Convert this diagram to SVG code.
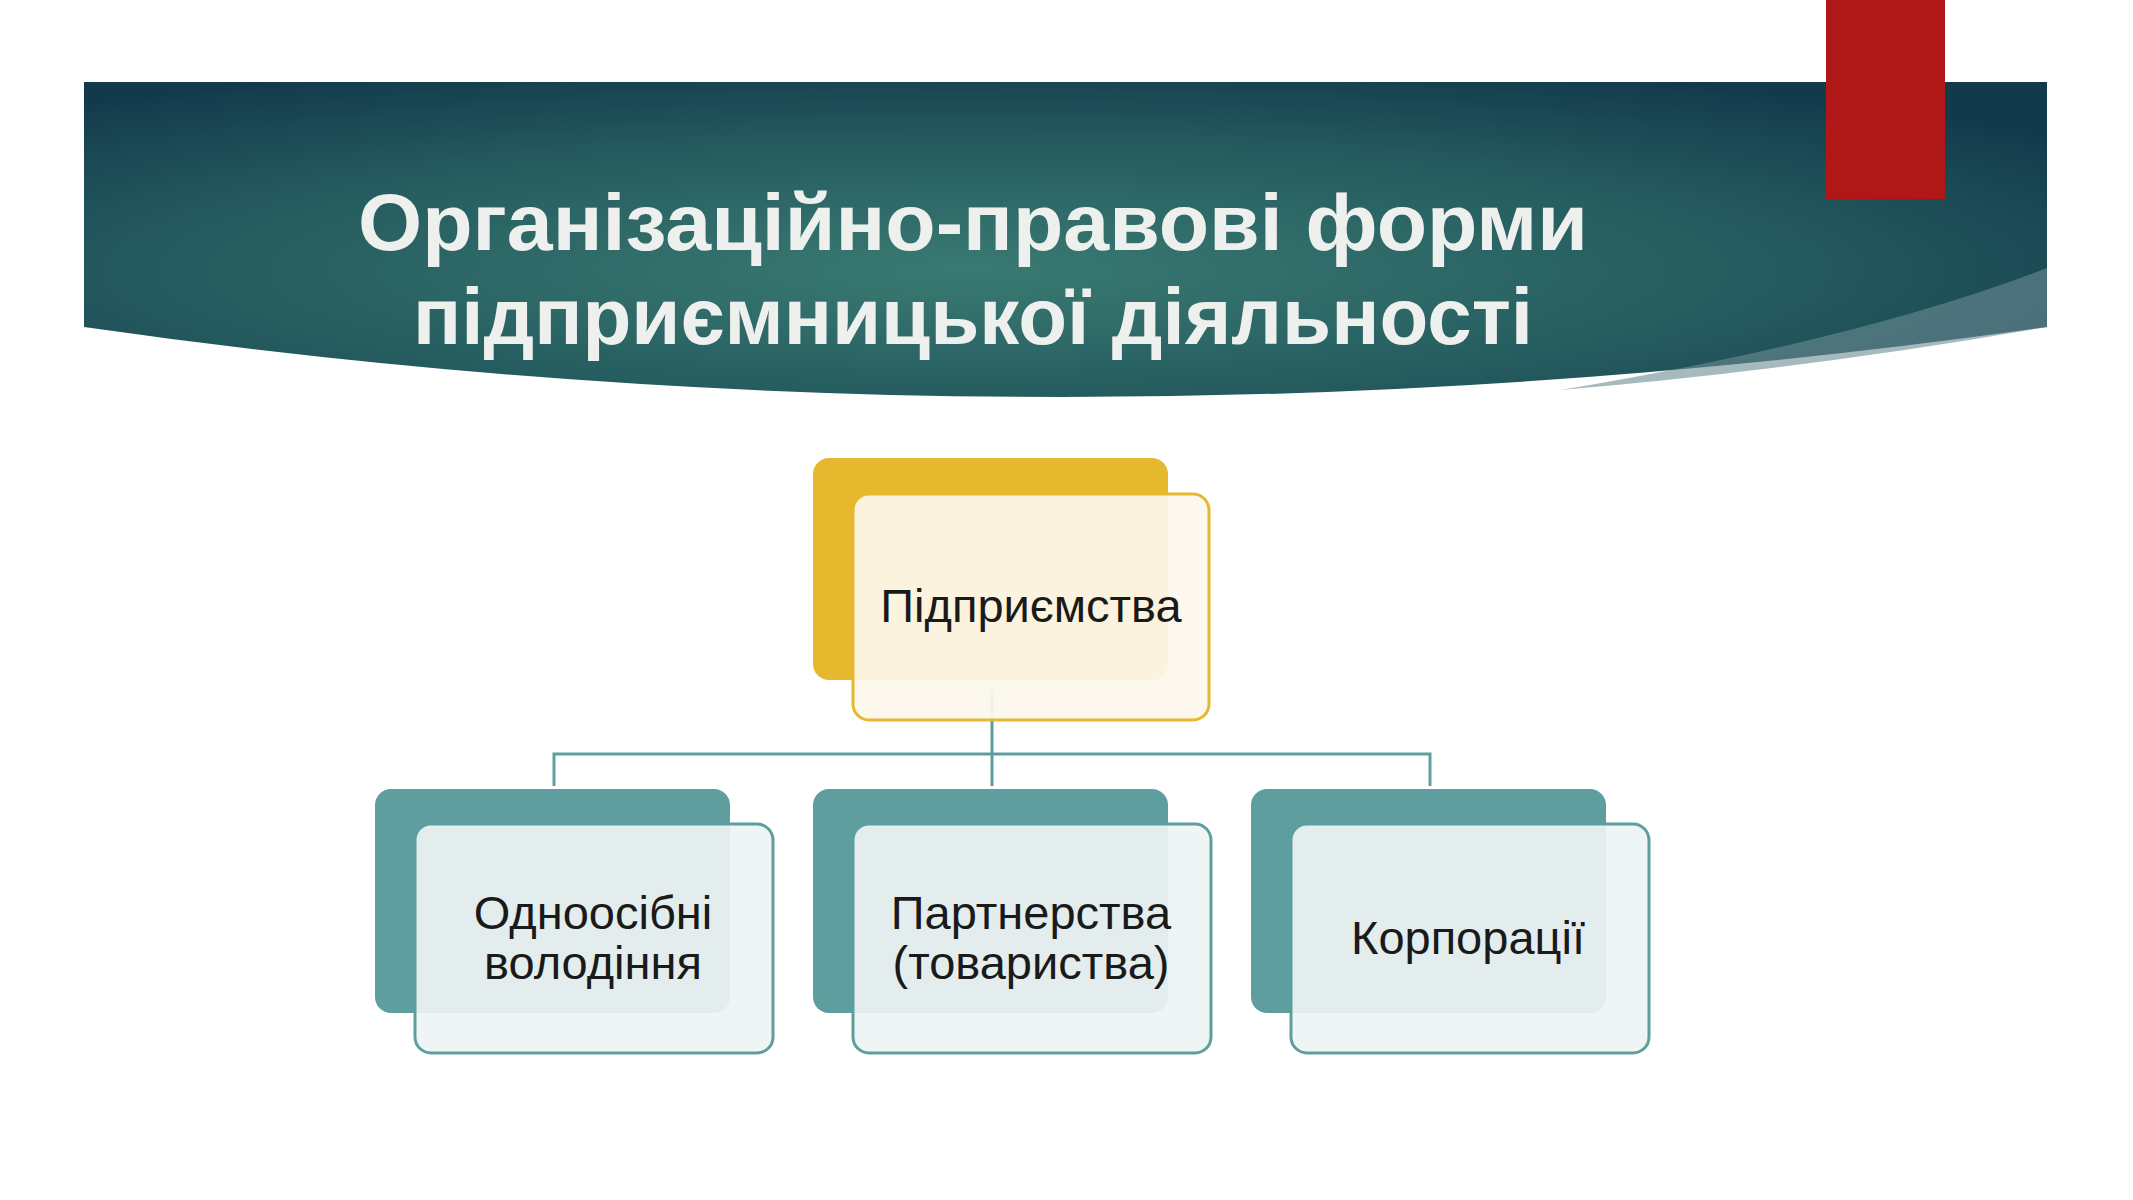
<svg xmlns="http://www.w3.org/2000/svg" width="2133" height="1200" viewBox="0 0 2133 1200">
<defs>
<radialGradient id="bg" cx="0.45" cy="0.6" r="0.7">
<stop offset="0" stop-color="#3a7a72"/>
<stop offset="0.6" stop-color="#245a5e"/>
<stop offset="1" stop-color="#133a4c"/>
</radialGradient>
<style>
.t{font-family:"Liberation Sans",Arial,sans-serif;fill:#1a1a1a;font-size:47px;text-anchor:middle}
.ttl{font-family:"Liberation Sans",Arial,sans-serif;font-weight:bold;fill:#eef0ee;font-size:80px;text-anchor:middle}
.back{fill:#5e9e9f}
.front{fill:#eef3f3;fill-opacity:0.93;stroke:#5e9e9f;stroke-width:3}
.yb{fill:#e6b82e}
.yf{fill:#fdf8ec;fill-opacity:0.93;stroke:#e6b82e;stroke-width:3}
.c{fill:none;stroke:#5e9e9f;stroke-width:3}
</style>
</defs>
<rect width="2133" height="1200" fill="#fff"/>
<g id="banner">
<path d="M84 82 H2047 V327 Q1060 467 84 327 Z" fill="url(#bg)"/>
<path d="M1560 390 Q1860 340 2047 268 V327 Q1800 370 1560 390 Z" fill="#6a8c93" opacity="0.6"/>
<rect x="1826" y="0" width="119" height="199" fill="#b01818"/>
<text class="ttl" x="973" y="250" textLength="1230" lengthAdjust="spacingAndGlyphs">Організаційно-правові форми</text>
<text class="ttl" x="973" y="344" textLength="1120" lengthAdjust="spacingAndGlyphs">підприємницької діяльності</text>
</g>
<g id="connectors">
<path class="c" d="M992 690 V754 M554 786 V754 H1430 V786 M992 754 V786"/>
</g>
<g id="n0">
<rect class="yb" x="813" y="458" width="355" height="222" rx="16"/>
<rect class="yf" x="853" y="494" width="356" height="226" rx="16"/>
<text class="t" x="1031" y="622">Підприємства</text>
</g>
<g id="n1">
<rect class="back" x="375" y="789" width="355" height="224" rx="16"/>
<rect class="front" x="415" y="824" width="358" height="229" rx="16"/>
<text class="t" x="593" y="929">Одноосібні</text>
<text class="t" x="593" y="979">володіння</text>
</g>
<g id="n2">
<rect class="back" x="813" y="789" width="355" height="224" rx="16"/>
<rect class="front" x="853" y="824" width="358" height="229" rx="16"/>
<text class="t" x="1031" y="929">Партнерства</text>
<text class="t" x="1031" y="979">(товариства)</text>
</g>
<g id="n3">
<rect class="back" x="1251" y="789" width="355" height="224" rx="16"/>
<rect class="front" x="1291" y="824" width="358" height="229" rx="16"/>
<text class="t" x="1468" y="954">Корпорації</text>
</g>
</svg>
